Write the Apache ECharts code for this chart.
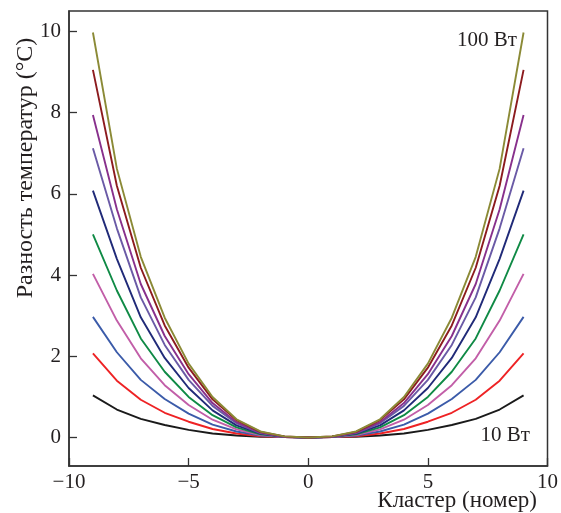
<!DOCTYPE html>
<html>
<head>
<meta charset="utf-8">
<script src="https://cdn.jsdelivr.net/npm/echarts@6/dist/echarts.min.js"></script>
<style>
  html, body { margin: 0; padding: 0; background: #fff; }
  #chart { width: 561px; height: 513px; }
</style>
</head>
<body>
<div id="chart"></div>
<script>
// номер кластера
var clusters = [-9, -8, -7, -6, -5, -4, -3, -2, -1, 0, 1, 2, 3, 4, 5, 6, 7, 8, 9];

// разность температур, °C, для мощностей 10..100 Вт
var p10  = [1.04, 0.69, 0.46, 0.31, 0.19, 0.10, 0.05, 0.02, 0.01, 0.00, 0.01, 0.02, 0.05, 0.10, 0.19, 0.31, 0.46, 0.69, 1.04];
var p20  = [2.07, 1.40, 0.93, 0.61, 0.39, 0.21, 0.10, 0.03, 0.01, 0.00, 0.01, 0.03, 0.10, 0.21, 0.39, 0.61, 0.93, 1.40, 2.07];
var p30  = [2.97, 2.10, 1.42, 0.95, 0.59, 0.32, 0.15, 0.05, 0.01, 0.00, 0.01, 0.05, 0.15, 0.32, 0.59, 0.95, 1.42, 2.10, 2.97];
var p40  = [4.03, 2.88, 1.95, 1.29, 0.80, 0.44, 0.20, 0.06, 0.01, 0.00, 0.01, 0.06, 0.20, 0.44, 0.80, 1.29, 1.95, 2.88, 4.03];
var p50  = [5.00, 3.62, 2.44, 1.62, 1.00, 0.55, 0.25, 0.08, 0.02, 0.00, 0.02, 0.08, 0.25, 0.55, 1.00, 1.62, 2.44, 3.62, 5.00];
var p60  = [6.08, 4.40, 2.96, 1.96, 1.22, 0.67, 0.30, 0.10, 0.02, 0.00, 0.02, 0.10, 0.30, 0.67, 1.22, 1.96, 2.96, 4.40, 6.08];
var p70  = [7.12, 5.15, 3.45, 2.28, 1.42, 0.78, 0.35, 0.11, 0.02, 0.00, 0.02, 0.11, 0.35, 0.78, 1.42, 2.28, 3.45, 5.15, 7.12];
var p80  = [7.94, 5.62, 3.78, 2.50, 1.56, 0.85, 0.38, 0.12, 0.02, 0.00, 0.02, 0.12, 0.38, 0.85, 1.56, 2.50, 3.78, 5.62, 7.94];
var p90  = [9.05, 6.20, 4.18, 2.76, 1.72, 0.94, 0.43, 0.14, 0.03, 0.00, 0.03, 0.14, 0.43, 0.94, 1.72, 2.76, 4.18, 6.20, 9.05];
var p100 = [9.97, 6.62, 4.45, 2.95, 1.82, 1.00, 0.45, 0.15, 0.03, 0.00, 0.03, 0.15, 0.45, 1.00, 1.82, 2.95, 4.45, 6.62, 9.97];

var seriesNames = ['10 Вт', '20 Вт', '30 Вт', '40 Вт', '50 Вт', '60 Вт', '70 Вт', '80 Вт', '90 Вт', '100 Вт'];
var seriesData = [p10, p20, p30, p40, p50, p60, p70, p80, p90, p100];

var yTicks = [0, 2, 4, 6, 8, 10];

var colors = ['#1a1a1a', '#ee2224', '#3b5ba9', '#c25ea8', '#0f8a45',
              '#202a78', '#6a5aa6', '#88308c', '#8c1b1e', '#8b8a36'];

var font = 'Liberation Serif';
var textColor = '#231f20';

var series = [];
for (var i = 0; i < seriesData.length; i++) {
    var pts = [];
    for (var j = 0; j < clusters.length; j++) {
        pts.push([clusters[j], seriesData[i][j]]);
    }
    series.push({
        name: seriesNames[i],
        type: 'line',
        data: pts,
        showSymbol: false,
        smooth: false,
        lineStyle: { width: 1.9, color: colors[i] },
        z: 2 + i
    });
}

function minus(v) {
    return String(v).replace('-', '\u2212');
}

var option = {
    animation: false,
    backgroundColor: '#fff',
    color: colors,
    grid: {
        left: 69,
        right: 11,
        top: 11,
        bottom: 47,
        show: true,
        borderColor: '#333',
        borderWidth: 1.5
    },
    xAxis: {
        type: 'value',
        min: -10,
        max: 10,
        interval: 5,
        splitLine: { show: false },
        axisLine: { onZero: false, lineStyle: { color: '#333', width: 1.5 } },
        axisTick: { inside: true, length: 8, lineStyle: { color: '#333', width: 1.3 } },
        axisLabel: {
            margin: 6,
            fontFamily: font,
            fontSize: 21,
            color: textColor,
            formatter: minus
        }
    },
    yAxis: {
        type: 'value',
        min: -0.7,
        max: 10.5,
        splitLine: { show: false },
        axisLine: { onZero: false, lineStyle: { color: '#333', width: 1.5 } },
        axisTick: {
            inside: true, length: 8,
            customValues: yTicks,
            lineStyle: { color: '#333', width: 1.3 }
        },
        axisLabel: {
            margin: 8,
            fontFamily: font,
            fontSize: 21,
            color: textColor,
            customValues: yTicks
        }
    },
    graphic: [
        {
            type: 'text',
            x: 26, y: 168,
            rotation: Math.PI / 2,
            style: {
                text: 'Разность температур (°C)',
                font: '24px "Liberation Serif"',
                fill: textColor,
                align: 'center',
                verticalAlign: 'middle'
            }
        },
        {
            type: 'text',
            x: 537, y: 501,
            style: {
                text: 'Кластер (номер)',
                font: '23px "Liberation Serif"',
                fill: textColor,
                align: 'right',
                verticalAlign: 'middle'
            }
        },
        {
            type: 'text',
            x: 517, y: 40,
            style: {
                text: '100 Вт',
                font: '21px "Liberation Serif"',
                fill: textColor,
                align: 'right',
                verticalAlign: 'middle'
            }
        },
        {
            type: 'text',
            x: 530, y: 435,
            style: {
                text: '10 Вт',
                font: '21px "Liberation Serif"',
                fill: textColor,
                align: 'right',
                verticalAlign: 'middle'
            }
        }
    ],
    series: series
};

var chart = echarts.init(document.getElementById('chart'), null, { renderer: 'canvas' });
chart.setOption(option);
</script>
</body>
</html>
